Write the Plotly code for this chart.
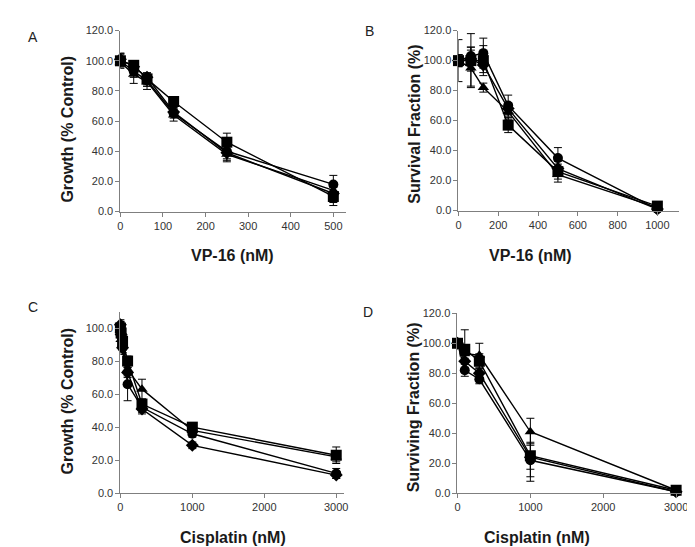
import plotly.graph_objects as go

W, H = 695, 547

# ---------------- data ----------------
symbols = ["square", "circle", "triangle-up", "diamond"]

a_x = [0, 31.25, 62.5, 125, 250, 500]
a_y = [
    [100, 97, 88, 73, 46, 10],
    [100, 93, 87, 65, 40, 18],
    [99, 91, 86, 64, 38, 14],
    [101, 96, 89, 66, 39, 12],
]
a_err = [
    [4, 3, 4, 3, 6, 6],
    [5, 4, 4, 3, 5, 6],
    [3, 6, 5, 4, 5, 5],
    [4, 3, 3, 3, 5, 6],
]

b_x = [0, 62.5, 125, 250, 500, 1000]
b_y = [
    [100, 100, 100, 57, 26, 3],
    [100, 103, 105, 70, 35, 1],
    [100, 95, 82, 66, 24, 2],
    [100, 101, 97, 68, 28, 1],
]
b_err = [
    [14, 18, 10, 5, 5, 1],
    [4, 6, 10, 7, 7, 1],
    [4, 12, 3, 5, 5, 1],
    [4, 8, 5, 4, 5, 1],
]

c_x = [0, 10, 30, 100, 300, 1000, 3000]
c_y = [
    [100, 97, 92, 80, 54, 40, 23],
    [101, 95, 88, 66, 52, 36, 12],
    [99, 93, 90, 75, 63, 38, 22],
    [102, 96, 88, 73, 51, 29, 11],
]
c_err = [
    [4, 3, 3, 3, 3, 2, 5],
    [3, 3, 3, 10, 3, 2, 3],
    [4, 3, 6, 4, 6, 2, 3],
    [3, 3, 3, 3, 3, 2, 2],
]

d_x = [0, 100, 300, 1000, 3000]
d_y = [
    [100, 96, 88, 25, 2],
    [100, 82, 76, 22, 1],
    [100, 93, 92, 41, 2],
    [100, 88, 80, 24, 1],
]
d_err = [
    [2, 13, 5, 9, 1],
    [2, 4, 3, 11, 1],
    [2, 3, 8, 9, 1],
    [2, 4, 3, 16, 1],
]

panels = [
    dict(x=a_x, ys=a_y, errs=a_err, letter="A", xtitle="VP-16 (nM)", ytitle="Growth (% Control)",
         xdom=(111, 340), ydom=(17, 202), xr=[0, 530], yr=[0, 120], xdt=100, ydt=20,
         letter_pos=(22, 24), xt_pos=(225, 247), yt_pos=(57, 118)),
    dict(x=b_x, ys=b_y, errs=b_err, letter="B", xtitle="VP-16 (nM)", ytitle="Survival Fraction (%)",
         xdom=(454, 678), ydom=(17, 201), xr=[0, 1110], yr=[0, 120], xdt=200, ydt=20,
         letter_pos=(364, 17), xt_pos=(527, 247), yt_pos=(409, 113)),
    dict(x=c_x, ys=c_y, errs=c_err, letter="C", xtitle="Cisplatin (nM)", ytitle="Growth (% Control)",
         xdom=(111, 338), ydom=(305, 490), xr=[0, 3110], yr=[0, 109.5], xdt=1000, ydt=20,
         letter_pos=(22, 300), xt_pos=(225, 535), yt_pos=(57, 396)),
    dict(x=d_x, ys=d_y, errs=d_err, letter="D", xtitle="Cisplatin (nM)", ytitle="Surviving Fraction (%)",
         xdom=(453, 680), ydom=(306, 490), xr=[0, 3070], yr=[0, 120], xdt=1000, ydt=20,
         letter_pos=(362, 305), xt_pos=(534, 535), yt_pos=(408, 402)),
]

fig = go.Figure()
layout = {}
annotations = []
sizes = {"square": 11, "circle": 10, "triangle-up": 10, "diamond": 10}

for i, p in enumerate(panels):
    n = "" if i == 0 else str(i + 1)
    xa, ya = "x" + n, "y" + n
    for ys, es, sym in zip(p["ys"], p["errs"], symbols):
        fig.add_trace(go.Scatter(
            x=p["x"], y=ys, xaxis=xa, yaxis=ya, mode="lines+markers",
            line=dict(color="black", width=1.4),
            marker=dict(symbol=sym, size=sizes[sym], color="black"),
            error_y=dict(type="data", array=es, visible=True, color="black", thickness=1, width=4),
            showlegend=False, cliponaxis=False,
        ))
    axis_common = dict(showgrid=False, zeroline=False, showline=True, linecolor="#7f7f7f", linewidth=1,
                       ticks="outside", ticklen=4, tickcolor="#7f7f7f",
                       tickfont=dict(family="Liberation Sans, Arial", size=11, color="#333333"))
    layout["xaxis" + n] = dict(domain=[p["xdom"][0] / W, p["xdom"][1] / W], range=p["xr"],
                               anchor=ya, dtick=p["xdt"], tick0=0, **axis_common)
    layout["yaxis" + n] = dict(domain=[1 - p["ydom"][1] / H, 1 - p["ydom"][0] / H], range=p["yr"],
                               anchor=xa, dtick=p["ydt"], tick0=0, tickformat=".1f", **axis_common)
    annotations.append(dict(text=p["letter"], x=p["letter_pos"][0] / W, y=1 - p["letter_pos"][1] / H,
                            xref="paper", yref="paper", showarrow=False, xanchor="center", yanchor="middle",
                            font=dict(family="Liberation Sans, Arial", size=14, color="#222222")))
    annotations.append(dict(text="<b>%s</b>" % p["xtitle"], x=p["xt_pos"][0] / W, y=1 - p["xt_pos"][1] / H,
                            xref="paper", yref="paper", showarrow=False, xanchor="center", yanchor="middle",
                            font=dict(family="Liberation Sans, Arial", size=16, color="#1a1a1a")))
    annotations.append(dict(text="<b>%s</b>" % p["ytitle"], x=p["yt_pos"][0] / W, y=1 - p["yt_pos"][1] / H,
                            xref="paper", yref="paper", showarrow=False, xanchor="center", yanchor="middle",
                            textangle=-90,
                            font=dict(family="Liberation Sans, Arial", size=16, color="#1a1a1a")))

fig.update_layout(**layout)
fig.update_layout(width=W, height=H, margin=dict(l=0, r=0, t=0, b=0),
                  paper_bgcolor="white", plot_bgcolor="white", annotations=annotations,
                  showlegend=False)
fig.write_html("out.html")
